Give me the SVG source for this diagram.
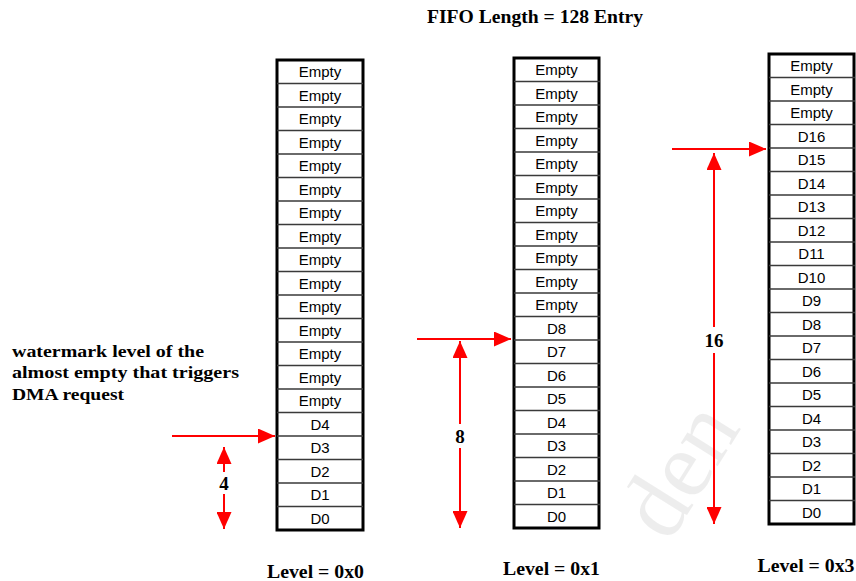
<svg xmlns="http://www.w3.org/2000/svg" width="856" height="581" viewBox="0 0 856 581">
  <style>
    .frame { fill: #fff; stroke: #000; stroke-width: 3; }
    .div { fill: none; stroke: #3a3a3a; stroke-width: 1.3; }
    .cell { font-family: "Liberation Sans", Arial, sans-serif; font-size: 15px; fill: #000; text-anchor: middle; }
    .lbl { font-family: "Liberation Serif", "Times New Roman", serif; font-weight: bold; fill: #000; }
    .num { font-family: "Liberation Serif", "Times New Roman", serif; font-weight: bold; font-size: 19px; fill: #000; text-anchor: middle; }
    .arr { fill: none; stroke: #ff0000; stroke-width: 2; marker-end: url(#head); }
  </style>
  <defs>
    <marker id="head" markerUnits="userSpaceOnUse" markerWidth="17" markerHeight="15" refX="17" refY="7.5" orient="auto">
      <path d="M0,0 L17,7.5 L0,15 Z" fill="#ff0000"/>
    </marker>
    <path id="rows" d="M0,23.5 H86 M0,47 H86 M0,70.5 H86 M0,94 H86 M0,117.5 H86 M0,141 H86 M0,164.5 H86 M0,188 H86 M0,211.5 H86 M0,235 H86 M0,258.5 H86 M0,282 H86 M0,305.5 H86 M0,329 H86 M0,352.5 H86 M0,376 H86 M0,399.5 H86 M0,423 H86 M0,446.5 H86"/>
  </defs>

  <rect width="856" height="581" fill="#fff"/>

  <!-- faint background watermark -->
  <text x="680" y="500" font-family="Liberation Serif, serif" font-size="95" fill="#000" fill-opacity="0.07" text-anchor="middle" transform="rotate(-58 680 470)">den</text>

  <text id="title" class="lbl" x="535" y="23" font-size="19" text-anchor="middle" textLength="216" lengthAdjust="spacingAndGlyphs">FIFO Length = 128 Entry</text>

  <g id="note" class="lbl" font-size="16">
    <text x="12" y="357" textLength="192" lengthAdjust="spacingAndGlyphs">watermark level of the</text>
    <text x="12" y="378" textLength="227" lengthAdjust="spacingAndGlyphs">almost empty that triggers</text>
    <text x="12" y="400" textLength="112" lengthAdjust="spacingAndGlyphs">DMA request</text>
  </g>

  <!-- FIFO, level 0x0 -->
  <g id="fifo0" transform="translate(277,60)">
    <rect class="frame" width="86" height="470"/>
    <use href="#rows" class="div"/>
    <g class="cell">
      <text x="43" y="17.25">Empty</text>
      <text x="43" y="40.75">Empty</text>
      <text x="43" y="64.25">Empty</text>
      <text x="43" y="87.75">Empty</text>
      <text x="43" y="111.25">Empty</text>
      <text x="43" y="134.75">Empty</text>
      <text x="43" y="158.25">Empty</text>
      <text x="43" y="181.75">Empty</text>
      <text x="43" y="205.25">Empty</text>
      <text x="43" y="228.75">Empty</text>
      <text x="43" y="252.25">Empty</text>
      <text x="43" y="275.75">Empty</text>
      <text x="43" y="299.25">Empty</text>
      <text x="43" y="322.75">Empty</text>
      <text x="43" y="346.25">Empty</text>
      <text x="43" y="369.75">D4</text>
      <text x="43" y="393.25">D3</text>
      <text x="43" y="416.75">D2</text>
      <text x="43" y="440.25">D1</text>
      <text x="43" y="463.75">D0</text>
    </g>
  </g>

  <!-- FIFO, level 0x1 -->
  <g id="fifo1" transform="translate(514,58)">
    <rect class="frame" width="85" height="470"/>
    <use href="#rows" class="div"/>
    <g class="cell">
      <text x="42.5" y="17.25">Empty</text>
      <text x="42.5" y="40.75">Empty</text>
      <text x="42.5" y="64.25">Empty</text>
      <text x="42.5" y="87.75">Empty</text>
      <text x="42.5" y="111.25">Empty</text>
      <text x="42.5" y="134.75">Empty</text>
      <text x="42.5" y="158.25">Empty</text>
      <text x="42.5" y="181.75">Empty</text>
      <text x="42.5" y="205.25">Empty</text>
      <text x="42.5" y="228.75">Empty</text>
      <text x="42.5" y="252.25">Empty</text>
      <text x="42.5" y="275.75">D8</text>
      <text x="42.5" y="299.25">D7</text>
      <text x="42.5" y="322.75">D6</text>
      <text x="42.5" y="346.25">D5</text>
      <text x="42.5" y="369.75">D4</text>
      <text x="42.5" y="393.25">D3</text>
      <text x="42.5" y="416.75">D2</text>
      <text x="42.5" y="440.25">D1</text>
      <text x="42.5" y="463.75">D0</text>
    </g>
  </g>

  <!-- FIFO, level 0x3 -->
  <g id="fifo3" transform="translate(769,54)">
    <rect class="frame" width="85" height="470"/>
    <use href="#rows" class="div"/>
    <g class="cell">
      <text x="42.5" y="17.25">Empty</text>
      <text x="42.5" y="40.75">Empty</text>
      <text x="42.5" y="64.25">Empty</text>
      <text x="42.5" y="87.75">D16</text>
      <text x="42.5" y="111.25">D15</text>
      <text x="42.5" y="134.75">D14</text>
      <text x="42.5" y="158.25">D13</text>
      <text x="42.5" y="181.75">D12</text>
      <text x="42.5" y="205.25">D11</text>
      <text x="42.5" y="228.75">D10</text>
      <text x="42.5" y="252.25">D9</text>
      <text x="42.5" y="275.75">D8</text>
      <text x="42.5" y="299.25">D7</text>
      <text x="42.5" y="322.75">D6</text>
      <text x="42.5" y="346.25">D5</text>
      <text x="42.5" y="369.75">D4</text>
      <text x="42.5" y="393.25">D3</text>
      <text x="42.5" y="416.75">D2</text>
      <text x="42.5" y="440.25">D1</text>
      <text x="42.5" y="463.75">D0</text>
    </g>
  </g>

  <!-- level captions -->
  <g id="levels" class="lbl" font-size="18" text-anchor="middle">
    <text x="315.5" y="578" textLength="97" lengthAdjust="spacingAndGlyphs">Level = 0x0</text>
    <text x="551.5" y="575" textLength="97" lengthAdjust="spacingAndGlyphs">Level = 0x1</text>
    <text x="806" y="572" textLength="97" lengthAdjust="spacingAndGlyphs">Level = 0x3</text>
  </g>

  <!-- watermark pointers and depth spans -->
  <g id="connectors">
    <path class="arr" d="M172,436 H275"/>
    <path class="arr" d="M224,472 V447"/>
    <path class="arr" d="M224,494 V529"/>

    <path class="arr" d="M417,339 H511"/>
    <path class="arr" d="M460,424 V341"/>
    <path class="arr" d="M460,448 V528"/>

    <path class="arr" d="M672,149 H766"/>
    <path class="arr" d="M714,327 V153"/>
    <path class="arr" d="M714,353 V524"/>
  </g>

  <g id="spans" class="num">
    <text x="224" y="490">4</text>
    <text x="460" y="443">8</text>
    <text x="714" y="347">16</text>
  </g>
</svg>
